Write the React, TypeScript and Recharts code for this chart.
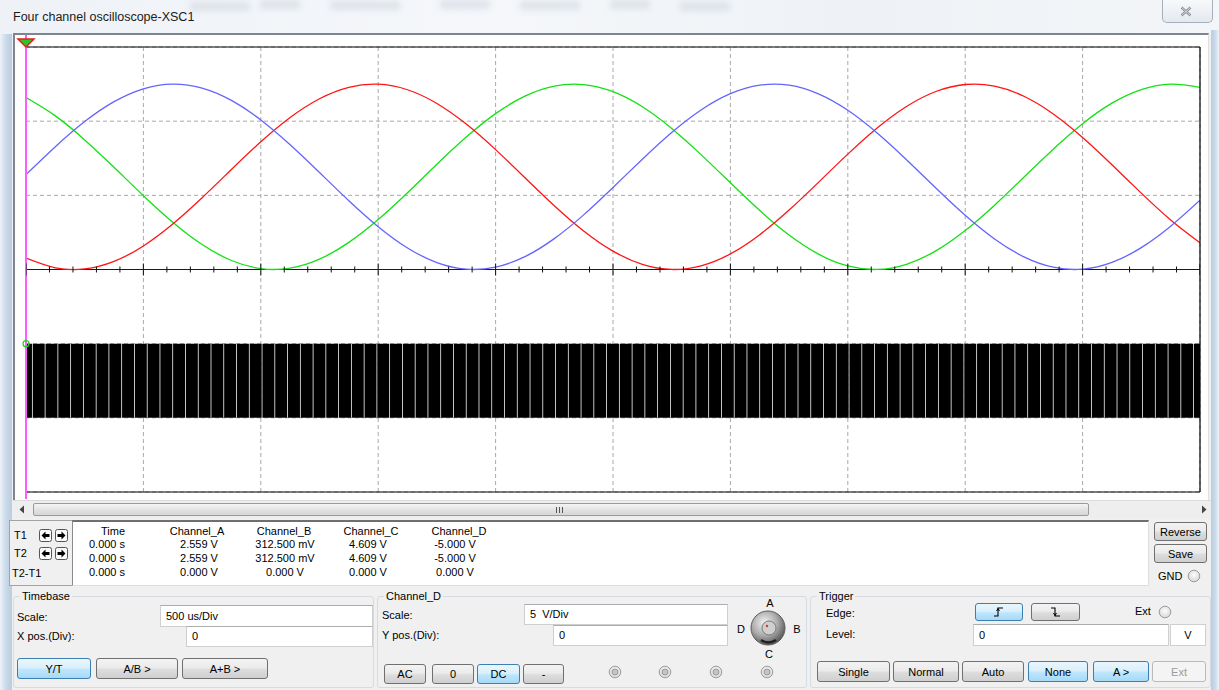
import React from "react";
import {
  ComposedChart,
  Line,
  Bar,
  Scatter,
  XAxis,
  YAxis,
  CartesianGrid,
  ReferenceLine,
  ReferenceDot,
} from "recharts";

// ---------- data (500 us/Div, channels A-C at 2 V/Div, D at 5 V/Div) ----------
const timeMs = [
  0, 0.125, 0.25, 0.375, 0.5, 0.625, 0.75, 0.875, 1, 1.125, 1.25, 1.375, 1.5, 1.625, 1.75, 1.875, 2,
  2.125, 2.25, 2.375, 2.5, 2.625, 2.75, 2.875, 3, 3.125, 3.25, 3.375, 3.5, 3.625, 3.75, 3.875, 4,
  4.125, 4.25, 4.375, 4.5, 4.625, 4.75, 4.875, 5,
];
const channelA = [
  2.559, 3.312, 3.989, 4.526, 4.874, 5.0, 4.891, 4.559, 4.034, 3.365, 2.616, 1.855, 1.155, 0.58,
  0.186, 0.008, 0.064, 0.347, 0.832, 1.473, 2.211, 2.975, 3.695, 4.303, 4.742, 4.972, 4.97, 4.736,
  4.294, 3.683, 2.962, 2.198, 1.461, 0.823, 0.34, 0.061, 0.009, 0.191, 0.59, 1.167, 1.868,
];
const channelB = [
  0.306, 0.046, 0.016, 0.219, 0.635, 1.226, 1.935, 2.698, 3.443, 4.099, 4.605, 4.914, 4.998, 4.847,
  4.477, 3.921, 3.233, 2.476, 1.721, 1.039, 0.494, 0.137, 0.001, 0.099, 0.421, 0.939, 1.602, 2.35,
  3.111, 3.816, 4.397, 4.8, 4.989, 4.944, 4.671, 4.194, 3.559, 2.824, 2.059, 1.336, 0.721,
];
const channelC = [
  4.635, 4.142, 3.495, 2.755, 1.991, 1.275, 0.673, 0.243, 0.023, 0.036, 0.279, 0.731, 1.348, 2.072,
  2.837, 3.57, 4.203, 4.677, 4.947, 4.987, 4.795, 4.388, 3.804, 3.098, 2.337, 1.59, 0.928, 0.414,
  0.095, 0.001, 0.141, 0.502, 1.05, 1.734, 2.489, 3.245, 3.932, 4.485, 4.851, 4.998, 4.911,
];
const channelDHigh = -5;
const channelDLow = -10;
const pwmPeriodsOnScreen = 92;

const gridTimeTicks = [0, 0.5, 1, 1.5, 2, 2.5, 3, 3.5, 4, 4.5, 5];
const gridVoltTicks = [-6, -4, -2, 0, 2, 4, 6];
const axisTickTimes = [
  0, 0.1, 0.2, 0.3, 0.4, 0.5, 0.6, 0.7, 0.8, 0.9, 1, 1.1, 1.2, 1.3, 1.4, 1.5, 1.6, 1.7, 1.8, 1.9, 2,
  2.1, 2.2, 2.3, 2.4, 2.5, 2.6, 2.7, 2.8, 2.9, 3, 3.1, 3.2, 3.3, 3.4, 3.5, 3.6, 3.7, 3.8, 3.9, 4, 4.1,
  4.2, 4.3, 4.4, 4.5, 4.6, 4.7, 4.8, 4.9, 5,
];

const tableHeaders = ["Time", "Channel_A", "Channel_B", "Channel_C", "Channel_D"];
const rowT1 = ["0.000 s", "2.559 V", "312.500 mV", "4.609 V", "-5.000 V"];
const rowT2 = ["0.000 s", "2.559 V", "312.500 mV", "4.609 V", "-5.000 V"];
const rowDiff = ["0.000 s", "0.000 V", "0.000 V", "0.000 V", "0.000 V"];

// ---------- tables built for the library ----------
const sineData = timeMs.map((t, i) => ({ t, a: channelA[i], b: channelB[i], c: channelC[i] }));
const pwmData = Array.from({ length: pwmPeriodsOnScreen + 1 }, (_, n) => ({
  n,
  d: [channelDLow, channelDHigh],
}));
const tickData = axisTickTimes.map((t) => ({ t, v: 0, major: gridTimeTicks.includes(t) }));

// ---------- styling helpers ----------
const F = '"Liberation Sans", Arial, Helvetica, sans-serif';
const abs = (x: number, y: number, w: number, h: number): React.CSSProperties => ({
  position: "absolute",
  left: x,
  top: y,
  width: w,
  height: h,
  boxSizing: "border-box",
});

const Txt = ({ x, y, children, size = 11, color = "#000", center = false, w = 120 }: any) => (
  <div
    style={{
      position: "absolute",
      left: center ? x - w / 2 : x,
      top: y - 7,
      width: center ? w : undefined,
      height: 14,
      lineHeight: "14px",
      fontSize: size,
      fontFamily: F,
      color,
      whiteSpace: "nowrap",
      textAlign: center ? "center" : "left",
    }}
  >
    {children}
  </div>
);

const Btn = ({ x, y, w, h, label, kind }: any) => {
  const st: React.CSSProperties =
    kind === "sel"
      ? {
          border: "1px solid #3c7fb1",
          background: "linear-gradient(#eaf6fd 0%, #d9f0fc 45%, #bee6fd 55%, #a7d9f5 100%)",
          color: "#000",
        }
      : kind === "dis"
      ? { border: "1px solid #b9b9b9", background: "#f4f4f4", color: "#9b9b9b" }
      : {
          border: "1px solid #707070",
          background: "linear-gradient(#f3f3f3 0%, #ebebeb 45%, #dddddd 55%, #cfcfcf 100%)",
          color: "#000",
        };
  return (
    <div
      style={{
        ...abs(x, y, w, h),
        ...st,
        borderRadius: 3,
        display: "flex",
        alignItems: "center",
        justifyContent: "center",
        fontSize: 11,
        fontFamily: F,
      }}
    >
      {label}
    </div>
  );
};

const Inp = ({ x, y, w, h, text }: any) => (
  <div
    style={{
      ...abs(x, y, w, h),
      background: "#fff",
      border: "1px solid #cfcfcf",
      borderTopColor: "#acacac",
      fontSize: 11,
      fontFamily: F,
      paddingLeft: 5,
      lineHeight: `${h - 2}px`,
      whiteSpace: "pre",
    }}
  >
    {text}
  </div>
);

const Group = ({ x, y, w, h, label }: any) => (
  <>
    <div style={{ ...abs(x, y, w, h), border: "1px solid #d5dbe0", borderRadius: 3 }} />
    <div
      style={{
        position: "absolute",
        left: x + 7,
        top: y - 7,
        height: 14,
        lineHeight: "14px",
        padding: "0 2px",
        background: "#f0f0f0",
        fontSize: 11,
        fontFamily: F,
      }}
    >
      {label}
    </div>
  </>
);

const Radio = ({ cx, cy, ring = false }: any) => (
  <svg style={{ position: "absolute", left: cx - 7, top: cy - 7 }} width={14} height={14}>
    <defs>
      <radialGradient id="rg" cx="50%" cy="40%" r="60%">
        <stop offset="0%" stopColor="#fdfdfd" />
        <stop offset="100%" stopColor="#d6d6d6" />
      </radialGradient>
    </defs>
    <circle cx={7} cy={7} r={5.8} fill="url(#rg)" stroke="#9c9c9c" />
    {ring && <circle cx={7} cy={7} r={3} fill="#c4c4c4" stroke="#8d8d8d" strokeWidth={0.8} />}
  </svg>
);

const ArrowBox = ({ x, y, dir }: any) => (
  <svg style={{ position: "absolute", left: x, top: y }} width={13} height={13}>
    <rect x={0.5} y={0.5} width={12} height={12} rx={2} fill="#fafafa" stroke="#555" />
    {dir === "l" ? (
      <path d="M2.5 6.5 L6.5 2.5 L6.5 5 L10.5 5 L10.5 8 L6.5 8 L6.5 10.5 Z" fill="#000" />
    ) : (
      <path d="M10.5 6.5 L6.5 2.5 L6.5 5 L2.5 5 L2.5 8 L6.5 8 L6.5 10.5 Z" fill="#000" />
    )}
  </svg>
);

// ---------- chart custom shapes ----------
const TickMark = (p: any) => {
  const h = p.payload && p.payload.major ? 6 : 3;
  return <line x1={p.cx} x2={p.cx} y1={p.cy - h} y2={p.cy + h} stroke="#111" strokeWidth={1} />;
};

const CursorShape = (p: any) => {
  const x = p.x1;
  const top = Math.min(p.y1, p.y2);
  const bot = Math.max(p.y1, p.y2);
  return (
    <g>
      <line x1={x} x2={x} y1={top - 12} y2={bot + 7} stroke="#ff5cff" strokeWidth={2} />
      <polygon
        points={`${x - 8},${top - 8} ${x + 8},${top - 8} ${x},${top}`}
        fill="#27c927"
        stroke="#e3201c"
        strokeWidth={1.5}
      />
    </g>
  );
};

const Scope = () => (
  <div style={{ position: "absolute", left: 0, top: 0 }}>
    <ComposedChart
      width={1219}
      height={500}
      data={pwmData}
      margin={{ top: 47, right: 19, bottom: 8, left: 26 }}
      barCategoryGap={0.35}
    >
      <XAxis xAxisId="t" type="number" dataKey="t" domain={[0, 5]} ticks={gridTimeTicks} hide allowDataOverflow />
      <XAxis xAxisId="p" type="number" dataKey="n" domain={[0, pwmPeriodsOnScreen]} hide allowDataOverflow />
      <YAxis yAxisId="v" type="number" dataKey="v" domain={[-6, 6]} ticks={gridVoltTicks} hide allowDataOverflow />
      <YAxis yAxisId="d" type="number" domain={[-15, 15]} hide allowDataOverflow />
      <CartesianGrid xAxisId="t" yAxisId="v" stroke="#a9a9a9" strokeDasharray="4 3" />
      <Bar xAxisId="p" yAxisId="d" dataKey="d" fill="#000" isAnimationActive={false} />
      <ReferenceLine xAxisId="t" yAxisId="v" y={0} stroke="#1a1a1a" />
      <Scatter xAxisId="t" yAxisId="v" data={tickData} shape={TickMark} isAnimationActive={false} />
      <Line xAxisId="t" yAxisId="v" data={sineData} dataKey="c" type="natural" stroke="#14e014" strokeWidth={1.3} dot={false} isAnimationActive={false} />
      <Line xAxisId="t" yAxisId="v" data={sineData} dataKey="b" type="natural" stroke="#ff1414" strokeWidth={1.3} dot={false} isAnimationActive={false} />
      <Line xAxisId="t" yAxisId="v" data={sineData} dataKey="a" type="natural" stroke="#6464ff" strokeWidth={1.3} dot={false} isAnimationActive={false} />
      <ReferenceLine xAxisId="t" yAxisId="v" y={6} stroke="#000" strokeWidth={1.2} />
      <ReferenceLine xAxisId="t" yAxisId="v" y={-6} stroke="#000" strokeWidth={1.2} />
      <ReferenceLine xAxisId="t" yAxisId="v" x={5} stroke="#000" strokeWidth={1.2} />
      <ReferenceLine xAxisId="t" yAxisId="v" x={0} shape={CursorShape} />
      <ReferenceDot xAxisId="p" yAxisId="d" x={0} y={channelDHigh} r={3} fill="none" stroke="#22cc22" strokeWidth={1.2} />
    </ComposedChart>
  </div>
);

export default function App() {
  const headerCx = [113, 197, 284, 371, 459];
  const valueCx = [107, 199, 285, 368, 455];
  const rows = [rowT1, rowT2, rowDiff];
  const rowY = [544, 558, 572];
  return (
    <div style={{ ...abs(0, 0, 1219, 690), background: "#f0f0f0", overflow: "hidden", fontFamily: F }}>
      {/* title bar glass */}
      <div
        style={{
          ...abs(0, 0, 1219, 34),
          background: "linear-gradient(90deg, #eef2f7 0%, #f5f7fa 40%, #eef2f6 70%, #f3f5f8 100%)",
        }}
      />
      {[
        [190, 2, 60],
        [260, 0, 40],
        [330, 1, 70],
        [440, 0, 50],
        [520, 1, 60],
        [610, 0, 40],
        [680, 2, 50],
      ].map(([x, y, w], i) => (
        <div
          key={i}
          style={{ ...abs(x, y, w, 9), background: "#d5dbe3", filter: "blur(3px)", opacity: 0.7 }}
        />
      ))}
      <Txt x={13} y={17} size={12.5} color="#1b1b1b">
        Four channel oscilloscope-XSC1
      </Txt>
      {/* close button */}
      <div
        style={{
          ...abs(1162, 0, 51, 23),
          border: "1px solid #a6b0bb",
          borderTop: "none",
          borderRadius: "0 0 5px 5px",
          background: "linear-gradient(#f7f9fb, #e4e9ef)",
        }}
      />
      <svg style={{ position: "absolute", left: 1180, top: 6 }} width={12} height={11}>
        <path d="M1.5 1.5 L10.5 9.5 M10.5 1.5 L1.5 9.5" stroke="#8b8f94" strokeWidth={2.4} />
        <path d="M1.5 1.5 L10.5 9.5 M10.5 1.5 L1.5 9.5" stroke="#e9ebee" strokeWidth={0.8} />
      </svg>
      {/* window side frames */}
      <div style={{ ...abs(0, 34, 12, 656), background: "linear-gradient(90deg, #eef3f9 0%, #cddbea 45%, #b9cce1 100%)" }} />
      <div style={{ ...abs(1211, 30, 8, 660), background: "linear-gradient(90deg, #b9cce1 0%, #cddbea 55%, #eef3f9 100%)" }} />
      {/* white screen panel */}
      <div
        style={{
          ...abs(13, 33, 1196, 467),
          background: "#fff",
          borderLeft: "2px solid #7d8590",
          borderTop: "2px solid #7d8590",
          borderRight: "1px solid #e0e0e0",
        }}
      />
      <Scope />
      {/* scrollbar */}
      <div style={{ ...abs(13, 500, 1198, 18), background: "#eeeeee", borderTop: "1px solid #dadada" }} />
      <div
        style={{
          ...abs(33, 503, 1056, 13),
          border: "1px solid #9a9a9a",
          borderRadius: 2,
          background: "linear-gradient(#f4f4f4, #e3e3e3 50%, #d6d6d6)",
        }}
      />
      <svg style={{ position: "absolute", left: 555, top: 506 }} width={10} height={8}>
        <path d="M1.5 1 V7 M4.5 1 V7 M7.5 1 V7" stroke="#555" strokeWidth={1} />
      </svg>
      <svg style={{ position: "absolute", left: 18, top: 505 }} width={8} height={9}>
        <path d="M6 0.5 L1.5 4.5 L6 8.5 Z" fill="#444" />
      </svg>
      <svg style={{ position: "absolute", left: 1200, top: 505 }} width={8} height={9}>
        <path d="M2 0.5 L6.5 4.5 L2 8.5 Z" fill="#444" />
      </svg>

      {/* cursor readout */}
      <div style={{ ...abs(9, 520, 64, 66), border: "1px solid #a3a3a3", background: "#f0f0f0" }} />
      <Txt x={14} y={535}>T1</Txt>
      <Txt x={14} y={553}>T2</Txt>
      <Txt x={12} y={573}>T2-T1</Txt>
      <ArrowBox x={39} y={529} dir="l" />
      <ArrowBox x={55} y={529} dir="r" />
      <ArrowBox x={39} y={547} dir="l" />
      <ArrowBox x={55} y={547} dir="r" />
      <div
        style={{
          ...abs(72, 520, 1077, 66),
          background: "#fff",
          borderTop: "2px solid #6f6f6f",
          borderLeft: "1px solid #8a8a8a",
          borderRight: "1px solid #dedede",
          borderBottom: "1px solid #dedede",
        }}
      />
      {tableHeaders.map((h, i) => (
        <Txt key={h} x={headerCx[i]} y={531} center>
          {h}
        </Txt>
      ))}
      {rows.map((r, ri) =>
        r.map((v, i) => (
          <Txt key={ri + "-" + i} x={valueCx[i]} y={rowY[ri]} center>
            {v}
          </Txt>
        ))
      )}
      <Btn x={1154} y={522} w={53} h={19} label="Reverse" />
      <Btn x={1154} y={544} w={53} h={19} label="Save" />
      <Txt x={1158} y={576}>GND</Txt>
      <Radio cx={1194} cy={576} />

      {/* Timebase */}
      <Group x={13} y={596} w={361} h={92} label="Timebase" />
      <Txt x={17} y={617}>Scale:</Txt>
      <Inp x={160} y={605} w={213} h={22} text="500 us/Div" />
      <Txt x={17} y={636}>X pos.(Div):</Txt>
      <Inp x={186} y={626} w={187} h={21} text="0" />
      <Btn x={17} y={658} w={74} h={21} label="Y/T" kind="sel" />
      <Btn x={96} y={658} w={82} h={21} label="A/B >" />
      <Btn x={182} y={658} w={86} h={21} label="A+B >" />

      {/* Channel_D */}
      <Group x={377} y={596} w={430} h={92} label="Channel_D" />
      <Txt x={382} y={615}>Scale:</Txt>
      <Inp x={524} y={604} w={204} h={21} text="5  V/Div" />
      <Txt x={382} y={635}>Y pos.(Div):</Txt>
      <Inp x={553} y={625} w={175} h={21} text="0" />
      <Btn x={384} y={664} w={42} h={20} label="AC" />
      <Btn x={432} y={664} w={42} h={20} label="0" />
      <Btn x={477} y={664} w={43} h={20} label="DC" kind="sel" />
      <Btn x={523} y={664} w={41} h={20} label="-" />
      <Radio cx={615} cy={672} ring />
      <Radio cx={665} cy={672} ring />
      <Radio cx={716} cy={672} ring />
      <Radio cx={767} cy={672} ring />
      <svg style={{ position: "absolute", left: 748, top: 608 }} width={40} height={40}>
        <defs>
          <radialGradient id="knob" cx="40%" cy="35%" r="70%">
            <stop offset="0%" stopColor="#f4f4f4" />
            <stop offset="55%" stopColor="#a9a9a9" />
            <stop offset="100%" stopColor="#4d4d4d" />
          </radialGradient>
        </defs>
        <circle cx={20} cy={20} r={17} fill="url(#knob)" stroke="#5c5c5c" />
        <circle cx={21} cy={20} r={7} fill="#cfcfcf" stroke="#7a7a7a" />
        <path d="M13 32 Q20 37 28 32" stroke="#222" strokeWidth={2.5} fill="none" />
        <circle cx={19} cy={18} r={1.2} fill="#d33" />
      </svg>
      <Txt x={770} y={603} center w={20}>A</Txt>
      <Txt x={797} y={629} center w={20}>B</Txt>
      <Txt x={769} y={654} center w={20}>C</Txt>
      <Txt x={741} y={629} center w={20}>D</Txt>

      {/* Trigger */}
      <Group x={810} y={596} w={401} h={92} label="Trigger" />
      <Txt x={826} y={613}>Edge:</Txt>
      <Btn x={975} y={603} w={48} h={18} kind="sel" label="" />
      <svg style={{ position: "absolute", left: 992, top: 605 }} width={14} height={14}>
        <path d="M2 11 H6 V3 H11" stroke="#000" strokeWidth={1.1} fill="none" />
        <path d="M4.5 6 L6 3.5 L7.5 6" stroke="#000" strokeWidth={1} fill="none" />
      </svg>
      <Btn x={1031} y={603} w={49} h={18} label="" />
      <svg style={{ position: "absolute", left: 1049, top: 605 }} width={14} height={14}>
        <path d="M2 3 H6 V11 H11" stroke="#000" strokeWidth={1.1} fill="none" />
        <path d="M4.5 8 L6 10.5 L7.5 8" stroke="#000" strokeWidth={1} fill="none" />
      </svg>
      <Txt x={1135} y={611}>Ext</Txt>
      <Radio cx={1165} cy={612} />
      <Txt x={826} y={634}>Level:</Txt>
      <Inp x={973} y={624} w={196} h={22} text="0" />
      <div
        style={{
          ...abs(1170, 624, 36, 22),
          background: "#fff",
          border: "1px solid #cfcfcf",
          fontSize: 11,
          lineHeight: "20px",
          textAlign: "center",
        }}
      >
        V
      </div>
      <Btn x={817} y={661} w={73} h={21} label="Single" />
      <Btn x={893} y={661} w={66} h={21} label="Normal" />
      <Btn x={962} y={661} w={62} h={21} label="Auto" />
      <Btn x={1028} y={661} w={60} h={21} label="None" kind="sel" />
      <Btn x={1093} y={661} w={56} h={21} label="A >" kind="sel" />
      <Btn x={1152} y={661} w={54} h={21} label="Ext" kind="dis" />
    </div>
  );
}
